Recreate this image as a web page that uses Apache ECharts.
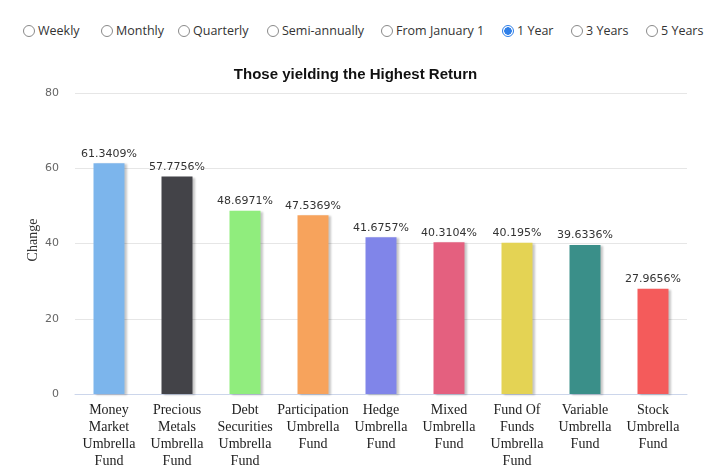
<!DOCTYPE html>
<html>
<head>
<meta charset="utf-8">
<script src="https://cdn.jsdelivr.net/npm/echarts@6/dist/echarts.min.js"></script>
<style>
  html, body { margin: 0; padding: 0; background: #fff; }
  #wrap { position: relative; width: 711px; height: 472px; overflow: hidden; }
  #periods { position: absolute; left: 0; top: 0; width: 711px; height: 50px; font-family: "Open Sans", "DejaVu Sans", sans-serif; font-size: 12.5px; color: #333; }
  .opt { position: absolute; top: 24px; height: 14px; line-height: 14px; white-space: nowrap; }
  .dot { position: absolute; left: 0; top: 1px; width: 10px; height: 10px; border: 1px solid #8a8a8a; border-radius: 50%; box-sizing: content-box; background: #fff; }
  .dot.on { border-color: #2f7fe8; background: radial-gradient(circle, #2f7fe8 0 3.5px, #fff 4px); }
  .txt { position: absolute; left: 15px; top: 0; }
  #chart { position: absolute; left: 0; top: 50px; width: 711px; height: 422px; }
</style>
</head>
<body>
<div id="wrap">
  <div id="periods"></div>
  <div id="chart"></div>
</div>
<script>
// Period selector options and which one is active
const periodLabels = ['Weekly', 'Monthly', 'Quarterly', 'Semi-annually', 'From January 1', '1 Year', '3 Years', '5 Years'];
const periodLeft = [23, 101, 178, 267, 381, 502, 571, 646];
const activePeriod = '1 Year';

// Fund categories and their 1-year change (%)
const categories = [
  'Money\nMarket\nUmbrella\nFund',
  'Precious\nMetals\nUmbrella\nFund',
  'Debt\nSecurities\nUmbrella\nFund',
  'Participation\nUmbrella\nFund',
  'Hedge\nUmbrella\nFund',
  'Mixed\nUmbrella\nFund',
  'Fund Of\nFunds\nUmbrella\nFund',
  'Variable\nUmbrella\nFund',
  'Stock\nUmbrella\nFund'
];
const changeValues = [61.3409, 57.7756, 48.6971, 47.5369, 41.6757, 40.3104, 40.195, 39.6336, 27.9656];
const barColors = ['#7cb5ec', '#434348', '#90ed7d', '#f7a35c', '#8085e9', '#e4607f', '#e4d354', '#3a8f89', '#f45b5b'];
const yTicks = [0, 20, 40, 60, 80];
const yAxisTitle = 'Change';

// Build the radio-style period selector
const periods = document.getElementById('periods');
periodLabels.forEach((label, i) => {
  const el = document.createElement('div');
  el.className = 'opt';
  el.style.left = periodLeft[i] + 'px';
  const dot = document.createElement('span');
  dot.className = 'dot' + (label === activePeriod ? ' on' : '');
  const txt = document.createElement('span');
  txt.className = 'txt';
  txt.textContent = label;
  el.appendChild(dot);
  el.appendChild(txt);
  periods.appendChild(el);
});

const chart = echarts.init(document.getElementById('chart'), null, { renderer: 'canvas' });
chart.setOption({
  animation: false,
  title: {
    text: 'Those yielding the Highest Return',
    left: 'center',
    top: 12,
    textStyle: { fontFamily: 'Liberation Sans, Arial, sans-serif', fontSize: 15, fontWeight: 'bold', color: '#111' }
  },
  // rotated y-axis title, placed in the left margin
  graphic: [{
    type: 'text',
    x: 33,
    y: 190,
    rotation: Math.PI / 2,
    style: {
      text: yAxisTitle,
      align: 'center',
      verticalAlign: 'middle',
      fontFamily: 'Liberation Serif, Times New Roman, serif',
      fontSize: 14,
      fill: '#333'
    }
  }],
  grid: { left: 75, right: 24, top: 43, bottom: 78 },
  xAxis: {
    type: 'category',
    data: categories,
    axisLine: { show: true, lineStyle: { color: '#ccd6eb' } },
    axisTick: { show: false },
    axisLabel: {
      interval: 0,
      margin: 8,
      fontFamily: 'Liberation Serif, Times New Roman, serif',
      fontSize: 14,
      lineHeight: 17,
      color: '#222'
    }
  },
  yAxis: {
    type: 'value',
    min: yTicks[0],
    max: yTicks[yTicks.length - 1],
    interval: 20,
    axisLine: { show: false },
    axisTick: { show: false },
    splitLine: { lineStyle: { color: '#e6e6e6' } },
    axisLabel: { margin: 16, fontFamily: 'DejaVu Sans, sans-serif', fontSize: 11, color: '#666' }
  },
  series: [{
    type: 'bar',
    barWidth: 31,
    data: changeValues.map((v, i) => ({
      value: v,
      itemStyle: {
        color: barColors[i],
        shadowColor: 'rgba(0,0,0,0.22)',
        shadowOffsetX: 2,
        shadowOffsetY: 1,
        shadowBlur: 2
      }
    })),
    label: {
      show: true,
      position: 'top',
      distance: 4,
      formatter: p => p.value + '%',
      fontFamily: 'DejaVu Sans, sans-serif',
      fontSize: 11,
      color: '#333',
      textBorderColor: '#fff',
      textBorderWidth: 1
    }
  }]
});
</script>
</body>
</html>
